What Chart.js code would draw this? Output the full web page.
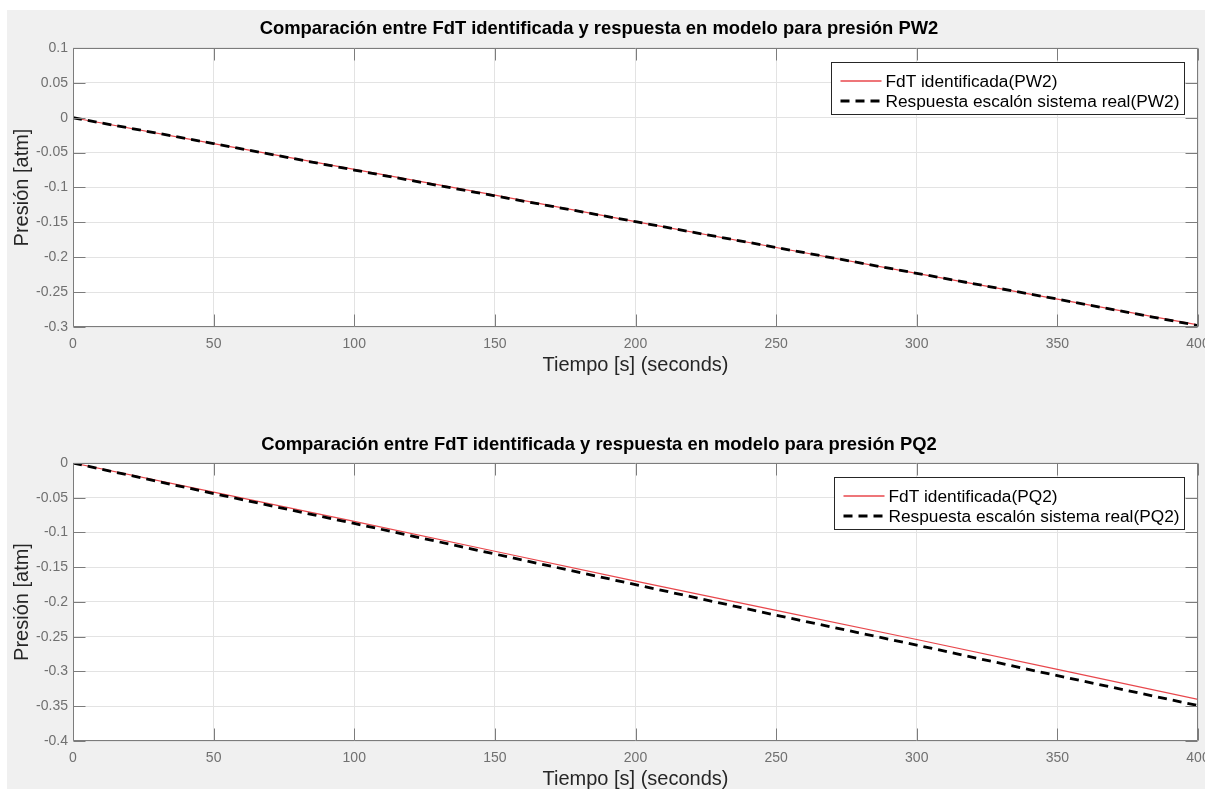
<!DOCTYPE html>
<html>
<head>
<meta charset="utf-8">
<title>Comparación FdT identificada / respuesta en modelo</title>
<script src="https://cdn.jsdelivr.net/npm/chart.js@4.4.1/dist/chart.umd.min.js"></script>
<style>
  html, body { margin: 0; padding: 0; background: #ffffff; }
  #fig { position: absolute; left: 7px; top: 10px; width: 1198px; height: 779px; background: #f0f0f0; }
  canvas { position: absolute; left: 0; }
  #c1 { top: 0; }
  #c2 { top: 395px; }
</style>
</head>
<body>
<div id="fig"></div>
<canvas id="c1" width="1205" height="395"></canvas>
<canvas id="c2" width="1205" height="394"></canvas>
<script>
// Time samples [s]
const time = [0, 50, 100, 150, 200, 250, 300, 350, 400];

// Pressure PW2 [atm]
const pw2Model = [0, -0.037, -0.074, -0.111, -0.149, -0.186, -0.223, -0.260, -0.297];
const pw2Real  = [0, -0.037, -0.075, -0.112, -0.149, -0.186, -0.223, -0.260, -0.298];

// Pressure PQ2 [atm]
const pq2Model = [0, -0.042, -0.084, -0.127, -0.170, -0.212, -0.254, -0.297, -0.340];
const pq2Real  = [0, -0.044, -0.087, -0.131, -0.175, -0.219, -0.262, -0.306, -0.349];

// Axis ticks
const xTicks = [0, 50, 100, 150, 200, 250, 300, 350, 400];
const yTicksPW2 = [-0.3, -0.25, -0.2, -0.15, -0.1, -0.05, 0, 0.05, 0.1];
const yTicksPQ2 = [-0.4, -0.35, -0.3, -0.25, -0.2, -0.15, -0.1, -0.05, 0];

// Texts
const titlePW2 = 'Comparación entre FdT identificada y respuesta en modelo para presión PW2';
const titlePQ2 = 'Comparación entre FdT identificada y respuesta en modelo para presión PQ2';
const labelsPW2 = ['FdT identificada(PW2)', 'Respuesta escalón sistema real(PW2)'];
const labelsPQ2 = ['FdT identificada(PQ2)', 'Respuesta escalón sistema real(PQ2)'];
const xLabel = 'Tiempo [s] (seconds)';
const yLabel = 'Presión [atm]';

const FAMILY = "'Liberation Sans', Arial, Helvetica, sans-serif";
const AXIS_COLOR = '#7c7c7c';
const TICK_LEN = 12;
const RED = '#e8474c';

function fmt(v) {
  return String(parseFloat(Number(v).toFixed(2)));
}

// White axes background, box, inward tick marks on all four sides and a boxed legend
const matlabAxes = {
  id: 'matlabAxes',
  beforeDraw(chart) {
    const a = chart.chartArea;
    const ctx = chart.ctx;
    ctx.save();
    ctx.fillStyle = '#ffffff';
    ctx.fillRect(a.left, a.top, a.right - a.left, a.bottom - a.top);
    ctx.restore();
  },
  afterDatasetsDraw(chart) {
    const ctx = chart.ctx;
    const a = chart.chartArea;
    const xs = chart.scales.x, ys = chart.scales.y;
    const L = Math.round(a.left) + 0.5, R = Math.round(a.right) - 0.5;
    const T = Math.round(a.top) + 0.5, B = Math.round(a.bottom) - 0.5;
    ctx.save();
    ctx.strokeStyle = AXIS_COLOR;
    ctx.lineWidth = 1;
    ctx.setLineDash([]);
    ctx.beginPath();
    ctx.rect(L, T, R - L, B - T);
    ctx.stroke();

    ctx.beginPath();
    xs.ticks.forEach(t => {
      const px = Math.round(xs.getPixelForValue(t.value)) + 0.5;
      ctx.moveTo(px, B); ctx.lineTo(px, B - TICK_LEN);
      ctx.moveTo(px, T); ctx.lineTo(px, T + TICK_LEN);
    });
    ys.ticks.forEach(t => {
      const py = Math.round(ys.getPixelForValue(t.value)) + 0.5;
      ctx.moveTo(L, py); ctx.lineTo(L + TICK_LEN, py);
      ctx.moveTo(R, py); ctx.lineTo(R - TICK_LEN, py);
    });
    ctx.stroke();

    // Legend box (top right, inside the axes)
    const ds = chart.data.datasets;
    ctx.font = '17.3px ' + FAMILY;
    const textW = Math.max(...ds.map(d => ctx.measureText(d.label).width));
    const padL = 9, sampleW = 41, gap = 4, padR = 5;
    const boxW = Math.round(padL + sampleW + gap + textW + padR);
    const boxH = 52;
    const bx = Math.round(a.right - 14 - boxW) + 0.5;
    const by = Math.round(a.top + 14) + 0.5;
    ctx.fillStyle = '#ffffff';
    ctx.fillRect(bx, by, boxW, boxH);
    ctx.strokeStyle = '#262626';
    ctx.lineWidth = 1;
    ctx.strokeRect(bx, by, boxW, boxH);

    ds.forEach((d, i) => {
      const cy = Math.round(by + 18 + i * 20);
      ctx.save();
      ctx.strokeStyle = d.borderColor;
      ctx.lineWidth = d.borderDash ? d.borderWidth : 1.5;
      ctx.setLineDash(d.borderDash || []);
      ctx.beginPath();
      ctx.moveTo(bx + padL, cy);
      ctx.lineTo(bx + padL + sampleW, cy);
      ctx.stroke();
      ctx.restore();
      ctx.fillStyle = '#000000';
      ctx.textBaseline = 'middle';
      ctx.textAlign = 'left';
      ctx.fillText(d.label, bx + padL + sampleW + gap, cy + 1);
    });
    ctx.restore();
  }
};

function makeChart(id, cfg) {
  return new Chart(document.getElementById(id), {
    type: 'line',
    data: {
      datasets: [
        {
          label: cfg.labels[0],
          data: time.map((t, i) => ({ x: t, y: cfg.model[i] })),
          borderColor: RED,
          borderWidth: 1.2,
          pointRadius: 0,
          tension: 0,
          order: 1
        },
        {
          label: cfg.labels[1],
          data: time.map((t, i) => ({ x: t, y: cfg.real[i] })),
          borderColor: '#000000',
          borderWidth: 2.8,
          borderDash: [9, 6],
          pointRadius: 0,
          tension: 0,
          order: 0
        }
      ]
    },
    options: {
      responsive: false,
      animation: false,
      layout: { padding: { left: 0, right: 7, top: 0, bottom: 0 } },
      plugins: {
        legend: { display: false },
        tooltip: { enabled: false },
        title: {
          display: true,
          text: cfg.title,
          color: '#000000',
          font: { family: FAMILY, size: 18.4, weight: 'bold', lineHeight: 1.2 },
          padding: { top: cfg.titleTop, bottom: cfg.titleBottom }
        }
      },
      scales: {
        x: {
          type: 'linear',
          min: xTicks[0],
          max: xTicks[xTicks.length - 1],
          afterBuildTicks(s) { s.ticks = xTicks.map(v => ({ value: v })); },
          ticks: {
            color: '#707070',
            font: { family: FAMILY, size: 14 },
            padding: 9,
            maxRotation: 0,
            autoSkip: false,
            callback: v => fmt(v)
          },
          grid: { color: '#e3e3e3', drawTicks: false },
          border: { display: false },
          title: {
            display: true,
            text: xLabel,
            color: '#262626',
            font: { family: FAMILY, size: 20, lineHeight: 1 },
            padding: { top: 0, bottom: cfg.xTitlePad }
          },
          afterFit(s) { s.height = cfg.xAxisH; s.paddingLeft = 0; s.paddingRight = 0; }
        },
        y: {
          type: 'linear',
          min: cfg.yTicks[0],
          max: cfg.yTicks[cfg.yTicks.length - 1],
          afterBuildTicks(s) { s.ticks = cfg.yTicks.map(v => ({ value: v })); },
          ticks: {
            color: '#707070',
            font: { family: FAMILY, size: 14 },
            padding: 5,
            autoSkip: false,
            callback: v => fmt(v)
          },
          grid: { color: '#e3e3e3', drawTicks: false },
          border: { display: false },
          title: {
            display: true,
            text: yLabel,
            color: '#262626',
            font: { family: FAMILY, size: 20, lineHeight: 1 },
            padding: { top: 12, bottom: 0 }
          },
          afterFit(s) { s.width = 73; s.paddingTop = 0; s.paddingBottom = 0; }
        }
      }
    },
    plugins: [matlabAxes]
  });
}

makeChart('c1', {
  title: titlePW2, labels: labelsPW2, model: pw2Model, real: pw2Real,
  yTicks: yTicksPW2, titleTop: 18.0, titleBottom: 7.9, xAxisH: 68, xTitlePad: 20
});
makeChart('c2', {
  title: titlePQ2, labels: labelsPQ2, model: pq2Model, real: pq2Real,
  yTicks: yTicksPQ2, titleTop: 38.5, titleBottom: 7.4, xAxisH: 48, xTitlePad: 0
});
</script>
</body>
</html>
